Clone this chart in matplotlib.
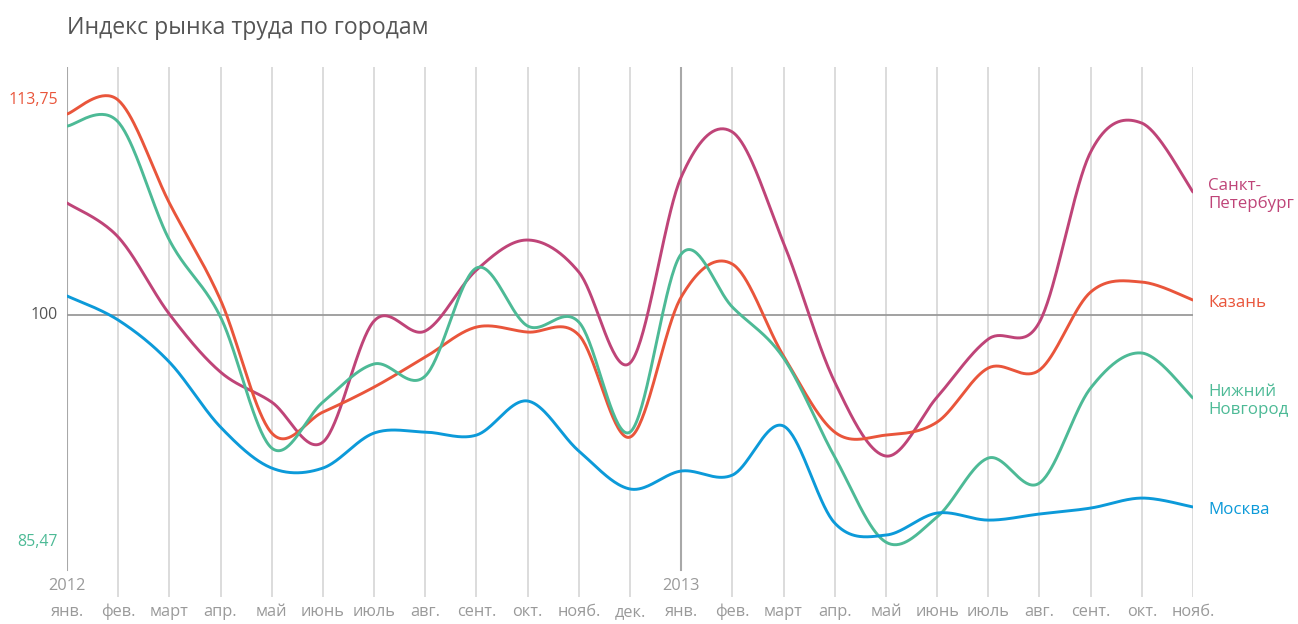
import numpy as np
import matplotlib
matplotlib.use('Agg')
import matplotlib.pyplot as plt
from matplotlib.transforms import blended_transform_factory, offset_copy

plt.rcParams['font.family'] = ['Open Sans', 'DejaVu Sans']

months = ['янв.', 'фев.', 'март', 'апр.', 'май', 'июнь', 'июль', 'авг.',
          'сент.', 'окт.', 'нояб.', 'дек.',
          'янв.', 'фев.', 'март', 'апр.', 'май', 'июнь', 'июль', 'авг.',
          'сент.', 'окт.', 'нояб.']
years = {0: '2012', 12: '2013'}

spb = [107.17, 104.99, 100.06, 96.35, 94.43, 91.87, 99.62, 98.98, 102.88, 104.80,
       102.75, 96.93, 108.83, 111.71, 104.61, 95.71, 90.98, 94.75, 98.46, 99.55,
       110.43, 112.28, 107.87]
kazan = [112.86, 113.75, 107.17, 100.96, 92.45, 93.79, 95.39, 97.31, 99.23, 98.91,
         98.72, 92.19, 101.15, 103.26, 97.38, 92.51, 92.32, 93.15, 96.61, 96.48,
         101.47, 102.11, 100.96]
nizhny = [112.09, 112.35, 104.80, 99.87, 91.49, 94.43, 96.87, 96.10, 103.01, 99.30,
          99.55, 92.51, 103.90, 100.51, 97.25, 90.92, 85.47, 87.08, 90.85, 89.25,
          95.33, 97.57, 94.69]
moscow = [101.22, 99.68, 96.99, 92.83, 90.21, 90.21, 92.45, 92.51, 92.32, 94.50,
          91.30, 88.87, 90.02, 89.76, 92.90, 86.69, 85.92, 87.33, 86.88, 87.27,
          87.65, 88.29, 87.72]

series = [
    ('Санкт-\nПетербург', spb, '#bf4478'),
    ('Казань', kazan, '#e9553b'),
    ('Нижний\nНовгород', nizhny, '#4dba96'),
    ('Москва', moscow, '#0c9ad9'),
]


def catmull_rom(y, n=40):
    # smooth curve through every point (cardinal spline, tension 0)
    y = np.asarray(y, dtype=float)
    x = np.arange(len(y), dtype=float)
    px = np.concatenate([[x[0]], x, [x[-1]]])
    py = np.concatenate([[y[0]], y, [y[-1]]])
    xs, ys = [], []
    t = np.linspace(0, 1, n)
    for i in range(1, len(px) - 2):
        p0x, p1x, p2x, p3x = px[i - 1:i + 3]
        p0y, p1y, p2y, p3y = py[i - 1:i + 3]
        c1x, c1y = p1x + (p2x - p0x) / 6, p1y + (p2y - p0y) / 6
        c2x, c2y = p2x - (p3x - p1x) / 6, p2y - (p3y - p1y) / 6
        b0, b1, b2, b3 = (1 - t) ** 3, 3 * t * (1 - t) ** 2, 3 * t ** 2 * (1 - t), t ** 3
        xs.append(b0 * p1x + b1 * c1x + b2 * c2x + b3 * p2x)
        ys.append(b0 * p1y + b1 * c1y + b2 * c2y + b3 * p2y)
    return np.concatenate(xs), np.concatenate(ys)


fig = plt.figure(figsize=(12.98, 6.24), dpi=100)
ax = fig.add_axes([67 / 1298, 1 - 597 / 624, 1126 / 1298, 530 / 624])
ax.set_xlim(0, len(months) - 1)
ax.set_ylim(81.96, 115.87)
ax.axis('off')

# vertical month grid
for i in range(len(months)):
    if i in years:
        ax.axvline(i, ymin=27 / 530, ymax=1, color='#a8a8a8', lw=1.5, zorder=1)
    else:
        ax.axvline(i, ymin=0, ymax=1, color='#dcdcdc', lw=1.4, zorder=1)

ax.axhline(100, color='#9a9a9a', lw=1.3, zorder=2)

# labels at the right end, a little below the line end
lab_tr = offset_copy(blended_transform_factory(ax.transAxes, ax.transData), fig=fig, y=-3, units='dots')
for name, vals, col in series:
    sx, sy = catmull_rom(vals)
    ax.plot(sx, sy, color=col, lw=2.1, solid_capstyle='round', zorder=3)
    ax.text(1 + 15 / 1126, vals[-1], name, transform=lab_tr,
            color=col, fontsize=12.2, va='center', ha='left', linespacing=1.1)

xt = ax.get_xaxis_transform()
for i, m in enumerate(months):
    ax.text(i, -15 / 530, m, transform=xt, ha='center', va='center', fontsize=11.8, color='#9a9a9a')
for i, y in years.items():
    ax.text(i, 11 / 530, y, transform=xt, ha='center', va='center', fontsize=11.8, color='#9a9a9a')

yt = blended_transform_factory(ax.transAxes, ax.transData)
ax.text(-9 / 1126, max(kazan), '113,75', transform=yt, ha='right', va='center', fontsize=11.4, color='#e9553b')
ax.text(-9 / 1126, 100, '100', transform=yt, ha='right', va='center', fontsize=11.4, color='#555555')
ax.text(-9 / 1126, min(nizhny), '85,47', transform=yt, ha='right', va='center', fontsize=11.4, color='#4dba96')

fig.text(67 / 1298, 1 - 28 / 624, 'Индекс рынка труда по городам', fontsize=16.6, color='#555555',
         ha='left', va='center')

fig.savefig('out.png', dpi=100)
